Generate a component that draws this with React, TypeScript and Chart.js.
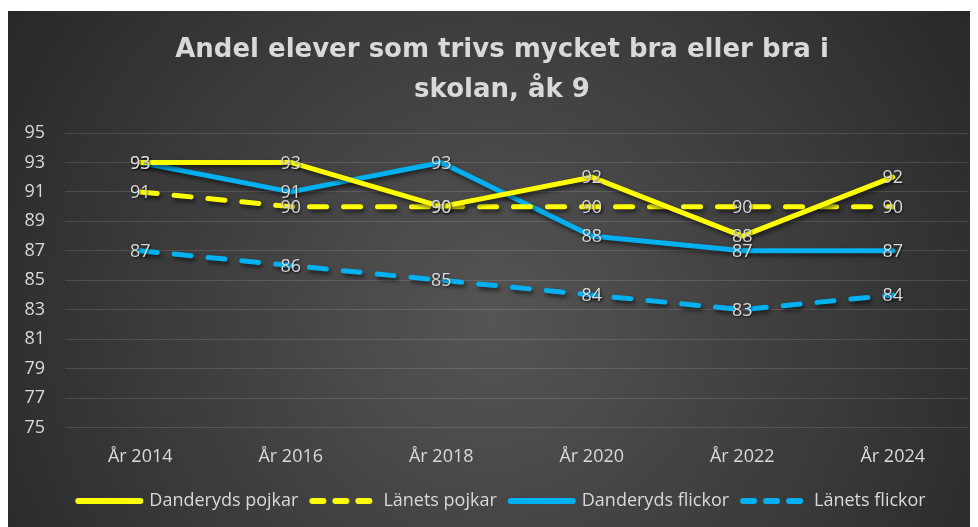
import React, { useEffect, useRef } from "react";
import { Chart, registerables } from "chart.js";

Chart.register(...registerables);

const categories = ["År 2014", "År 2016", "År 2018", "År 2020", "År 2022", "År 2024"];
const danderydsPojkar = [93, 93, 90, 92, 88, 92];
const lanetsPojkar = [91, 90, 90, 90, 90, 90];
const danderydsFlickor = [93, 91, 93, 88, 87, 87];
const lanetsFlickor = [87, 86, 85, 84, 83, 84];
const titleLines = ["Andel elever som trivs mycket bra eller bra i", "skolan, åk 9"];

const YELLOW = "#ffff00";
const BLUE = "#00b0f0";
const TEXT = "#d9d9d9";
const FONT = "'Open Sans', sans-serif";

const bgPlugin = {
  id: "bgPlugin",
  beforeDraw(chart: any) {
    const { ctx, width, height } = chart;
    ctx.save();
    const g = ctx.createRadialGradient(width * 0.5, height * 0.6, 0, width * 0.5, height * 0.6, width * 0.62);
    g.addColorStop(0, "#555555");
    g.addColorStop(1, "#262626");
    ctx.fillStyle = g;
    ctx.fillRect(0, 0, width, height);
    ctx.restore();
  },
};

const shadowPlugin = {
  id: "shadowPlugin",
  beforeDatasetsDraw(chart: any) {
    const ctx = chart.ctx;
    ctx.save();
    ctx.shadowColor = "rgba(0,0,0,0.55)";
    ctx.shadowBlur = 4;
    ctx.shadowOffsetX = 2;
    ctx.shadowOffsetY = 3;
  },
  afterDatasetsDraw(chart: any) {
    chart.ctx.restore();
  },
};

const labelPlugin = {
  id: "labelPlugin",
  afterDatasetsDraw(chart: any) {
    const ctx = chart.ctx;
    ctx.save();
    ctx.font = `18px ${FONT}`;
    ctx.fillStyle = TEXT;
    ctx.textAlign = "center";
    ctx.textBaseline = "middle";
    ctx.shadowColor = "rgba(0,0,0,0.6)";
    ctx.shadowBlur = 2;
    ctx.shadowOffsetX = 1;
    ctx.shadowOffsetY = 1;
    chart.data.datasets.forEach((ds: any, di: number) => {
      const meta = chart.getDatasetMeta(di);
      meta.data.forEach((pt: any, i: number) => {
        ctx.fillText(String(ds.data[i]), pt.x, pt.y + 1);
      });
    });
    ctx.restore();
  },
};

export default function App() {
  const ref = useRef<HTMLCanvasElement>(null);
  useEffect(() => {
    if (!ref.current) return;
    const mk = (label: string, data: number[], color: string, dashed: boolean) => ({
      label,
      data,
      borderColor: color,
      backgroundColor: color,
      borderWidth: 5,
      borderDash: dashed ? [17, 17] : [],
      borderCapStyle: "round",
      borderJoinStyle: "round",
      pointRadius: 0,
      pointHoverRadius: 0,
      tension: 0,
      fill: false,
    });
    const chart = new Chart(ref.current, {
      type: "line",
      data: {
        labels: categories,
        datasets: [
          mk("Danderyds pojkar", danderydsPojkar, YELLOW, false),
          mk("Länets pojkar", lanetsPojkar, YELLOW, true),
          mk("Danderyds flickor", danderydsFlickor, BLUE, false),
          mk("Länets flickor", lanetsFlickor, BLUE, true),
        ] as any,
      },
      options: {
        responsive: false,
        animation: false,
        events: [],
        layout: { padding: { left: 28, right: 10, top: 0, bottom: 7 } },
        plugins: {
          tooltip: { enabled: false },
          title: {
            display: true,
            text: titleLines,
            color: TEXT,
            font: { family: "'DejaVu Sans', sans-serif", size: 26, weight: "bold", lineHeight: 40 / 26 },
            padding: { top: 19, bottom: 23 },
          },
          legend: {
            display: true,
            position: "bottom",
            labels: {
              color: TEXT,
              font: { family: FONT, size: 18 },
              usePointStyle: true,
              pointStyleWidth: 62,
              padding: 14,
              generateLabels: (c: any) =>
                c.data.datasets.map((ds: any, i: number) => ({
                  text: ds.label,
                  fillStyle: "rgba(0,0,0,0)",
                  strokeStyle: ds.borderColor,
                  lineWidth: 6,
                  lineDash: ds.borderDash.length ? [11, 12] : [],
                  lineCap: "round",
                  pointStyle: "line",
                  hidden: false,
                  datasetIndex: i,
                  fontColor: TEXT,
                })),
            },
          },
        },
        scales: {
          x: {
            offset: true,
            grid: { display: false, drawTicks: false },
            border: { display: false },
            ticks: { color: TEXT, font: { family: FONT, size: 18 }, padding: 19 },
            afterFit: (s: any) => {
              s.height = 50.5;
            },
          },
          y: {
            min: 75,
            max: 95,
            ticks: { stepSize: 2, color: TEXT, font: { family: FONT, size: 18 }, padding: 20 },
            grid: { color: "rgba(255,255,255,0.13)", lineWidth: 1, drawTicks: false },
            border: { display: false },
            afterFit: (s: any) => {
              s.width = 29;
            },
            afterUpdate: (s: any) => {
              s._computeLabelArea = () => undefined;
            },
          },
        },
      } as any,
      plugins: [bgPlugin, shadowPlugin, labelPlugin],
    });
    return () => chart.destroy();
  }, []);
  return (
    <div style={{ paddingTop: 3 }}>
      <canvas ref={ref} width={970} height={516} style={{ display: "block" }} />
    </div>
  );
}
